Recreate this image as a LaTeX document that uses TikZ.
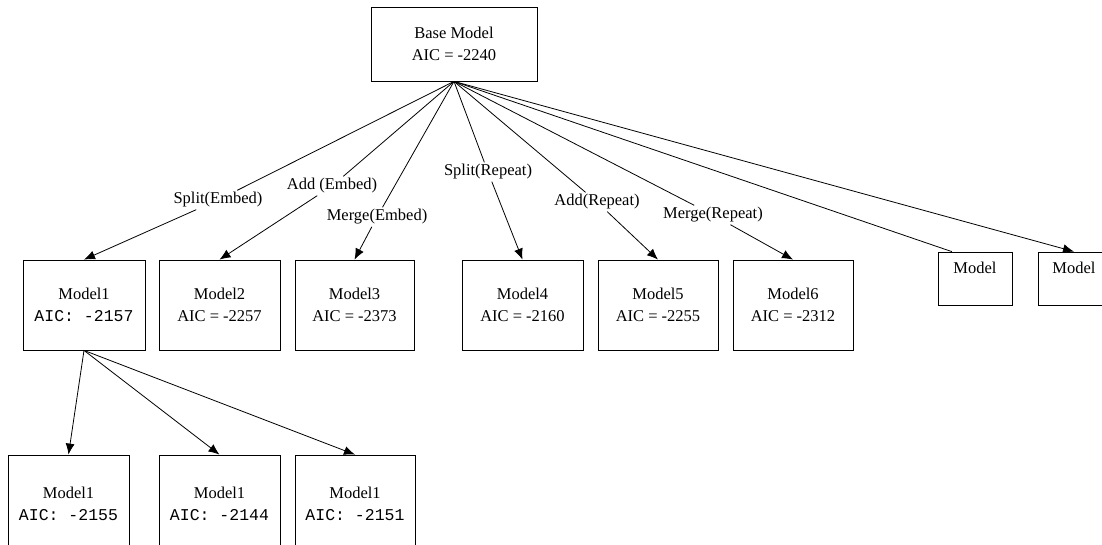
\documentclass[tikz,border=0pt]{standalone}
\usepackage{fontspec}
\setmainfont{Liberation Serif}
\setmonofont{Liberation Mono}
\usetikzlibrary{arrows.meta,calc}

\tikzset{
  box/.style={draw, line width=0.8pt, inner sep=0pt, align=center},
  lbl/.style={fill=white, inner sep=2pt},
  link/.style={line width=0.8pt},
  arr/.style={link, -{Latex[length=11pt,width=9pt]}}
}

\begin{document}
\begin{tikzpicture}[x=1pt, y=-1pt, font=\fontsize{16.5}{22}\selectfont]
\useasboundingbox (0,0) rectangle (1102,544);

% Root
\node[box, minimum width=166pt, minimum height=74pt] (base) at (454,44) {Base Model\\AIC = -2240};

% First level
\node[box, minimum width=122pt, minimum height=90pt] (m1) at (84,305) {Model1\\\texttt{AIC: -2157}};
\node[box, minimum width=121pt, minimum height=90pt] (m2) at (219.5,305) {Model2\\AIC = -2257};
\node[box, minimum width=119pt, minimum height=90pt] (m3) at (354.5,305) {Model3\\AIC = -2373};
\node[box, minimum width=121pt, minimum height=90pt] (m4) at (522.5,305) {Model4\\AIC = -2160};
\node[box, minimum width=120pt, minimum height=90pt] (m5) at (658,305) {Model5\\AIC = -2255};
\node[box, minimum width=120pt, minimum height=90pt] (m6) at (793,305) {Model6\\AIC = -2312};
\node[box, minimum width=74pt, minimum height=53pt,
      label={[anchor=north, yshift=-7pt]north:Model}] (m7) at (975,278.5) {};
\node[box, minimum width=72pt, minimum height=53pt,
      label={[anchor=north, yshift=-7pt]north:Model}] (m8) at (1074,278.5) {};

% Second level
\node[box, minimum width=121pt, minimum height=98pt] (b1) at (68.5,504) {Model1\\\texttt{AIC: -2155}};
\node[box, minimum width=121pt, minimum height=98pt] (b2) at (219.5,504) {Model1\\\texttt{AIC: -2144}};
\node[box, minimum width=120pt, minimum height=98pt] (b3) at (355,504) {Model1\\\texttt{AIC: -2151}};

% Edge labels
\node[lbl] (se) at (218,200) {Split(Embed)};
\node[lbl] (ae) at (332,186) {Add (Embed)};
\node[lbl] (me) at (377,217) {Merge(Embed)};
\node[lbl] (sr) at (488,172) {Split(Repeat)};
\node[lbl] (ar) at (597,202) {Add(Repeat)};
\node[lbl] (mr) at (713,215) {Merge(Repeat)};

% Edges from the root
\foreach \l/\m in {se/m1, ae/m2, me/m3, sr/m4, ar/m5, mr/m6}{
  \draw[link] (base.south) -- (\l);
  \draw[arr] (\l) -- (\m.north);
}
\coordinate (m7in) at ($(m7.north west)!0.19!(m7.north east)$);
\draw[link] (base.south) -- (m7in);
\draw[arr] (base.south) -- (m8.north);

% Edges from Model1
\draw[arr] (m1.south) -- (b1.north);
\draw[arr] (m1.south) -- (b2.north);
\draw[arr] (m1.south) -- (b3.north);
\end{tikzpicture}
\end{document}
